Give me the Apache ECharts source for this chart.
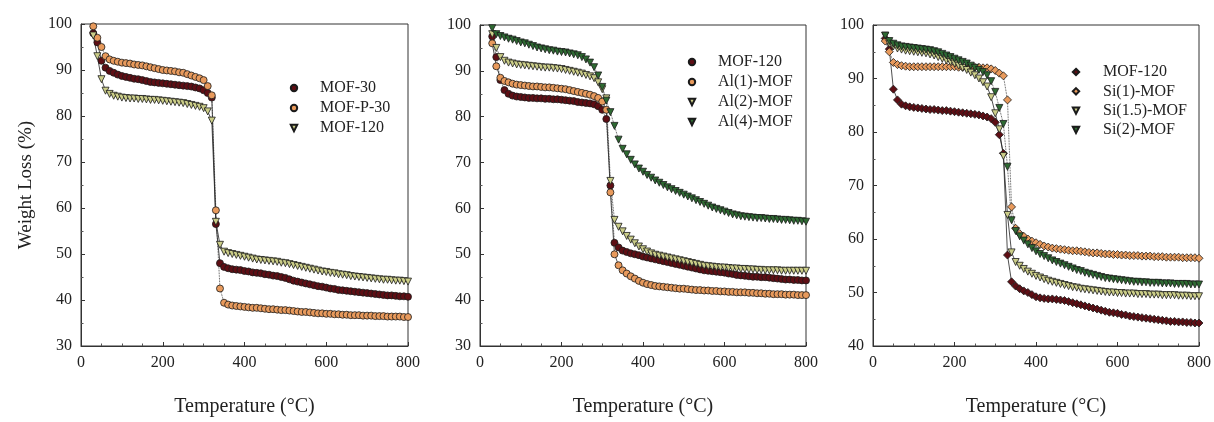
<!DOCTYPE html>
<html>
<head>
<meta charset="utf-8">
<script src="https://cdn.jsdelivr.net/npm/echarts@6/dist/echarts.min.js"></script>
<style>
html,body{margin:0;padding:0;background:#fff;}
#c{width:1214px;height:422px;}
</style>
</head>
<body>
<div id="c"></div>
<script>
// Temperature grid (°C), shared by all series
const temps = [30,40,50,60,70,80,90,100,110,120,130,140,150,160,170,180,190,200,210,220,230,240,250,260,270,280,290,300,310,320,330,340,350,360,370,380,390,400,410,420,430,440,450,460,470,480,490,500,510,520,530,540,550,560,570,580,590,600,610,620,630,640,650,660,670,680,690,700,710,720,730,740,750,760,770,780,790,800];

// Panel 1
const p1_mof30 = [98,96,92,90.5,89.8,89.4,89,88.7,88.5,88.3, 88.1,88,87.8,87.6,87.4,87.3,87.2,87.1,87,86.9, 86.8,86.7,86.6,86.5,86.4,86.2,86,85.6,85,84, 56.5,48,47.2,46.9,46.7,46.6,46.5,46.3,46.2,46, 45.9,45.8,45.6,45.5,45.3,45.2,45,44.8,44.5,44.2, 44,43.8,43.6,43.4,43.2,43,42.9,42.7,42.5,42.4, 42.2,42.1,42,41.9,41.8,41.7,41.6,41.5,41.4,41.3, 41.2,41.1,41,41,40.9,40.8,40.8,40.7];
const p1_mofp30 = [99.5,97,95,93,92.3,92,91.8,91.6,91.5,91.4, 91.2,91.1,91,90.8,90.6,90.4,90.2,90,89.9,89.8, 89.7,89.5,89.4,89.1,88.8,88.5,88.2,87.8,86.5,84.5, 59.5,42.5,39.4,39,38.8,38.7,38.6,38.5,38.4,38.3, 38.3,38.2,38.1,38,38,37.9,37.8,37.8,37.7,37.6, 37.5,37.4,37.4,37.3,37.2,37.1,37.1,37,37,36.9, 36.9,36.8,36.8,36.7,36.7,36.7,36.6,36.6,36.6,36.5, 36.5,36.5,36.4,36.4,36.4,36.4,36.3,36.3];
const p1_mof120 = [97.5,93,88,85.5,84.8,84.4,84.2,84,83.9,83.8, 83.8,83.7,83.7,83.6,83.5,83.5,83.4,83.3,83.2,83.1, 83,82.9,82.8,82.6,82.4,82.2,82,81.7,81,79, 57,52,50.5,50.2,50,49.8,49.6,49.4,49.2,49, 48.8,48.7,48.6,48.5,48.4,48.3,48.1,48,47.8,47.6, 47.4,47.2,47,46.8,46.6,46.4,46.2,46.1,45.9,45.8, 45.6,45.5,45.4,45.2,45.1,45,44.9,44.8,44.7,44.6, 44.5,44.4,44.4,44.3,44.2,44.2,44.1,44];

// Panel 2
const p2_mof120 = [97.5,93,88,85.8,85,84.6,84.4,84.3,84.2,84.1, 84.1,84,84,83.9,83.9,83.8,83.8,83.7,83.6,83.5, 83.4,83.2,83.1,83,82.9,82.7,82.3,81.5,79.5,65, 52.5,51.5,50.8,50.5,50.2,50,49.8,49.5,49.3,49.1, 48.9,48.7,48.5,48.3,48.1,47.9,47.7,47.5,47.3,47.1, 46.9,46.7,46.5,46.4,46.3,46.2,46.1,46,45.8,45.7, 45.5,45.4,45.3,45.2,45.1,45.1,45,45,44.9,44.8, 44.7,44.6,44.5,44.5,44.4,44.4,44.3,44.3];
const p2_al1 = [96,91,88.5,87.8,87.5,87.2,87,86.9,86.8,86.7, 86.6,86.6,86.5,86.4,86.4,86.3,86.2,86.1,86,85.8, 85.6,85.4,85.2,85,84.8,84.5,84.1,83.3,81.5,63.5, 50,47.6,46.5,45.8,45.2,44.7,44.2,43.8,43.5,43.3, 43.1,43,42.9,42.8,42.7,42.6,42.5,42.5,42.4,42.3, 42.2,42.2,42.1,42.1,42,42,41.9,41.9,41.8,41.8, 41.7,41.7,41.7,41.6,41.6,41.5,41.5,41.4,41.4,41.3, 41.3,41.3,41.2,41.2,41.2,41.1,41.1,41.1];
const p2_al2 = [98,95,93,92.2,91.8,91.6,91.4,91.3,91.2,91.1, 91,90.9,90.8,90.7,90.7,90.6,90.5,90.4,90.2,90, 89.8,89.6,89.4,89.1,88.8,88.4,87.5,86,84,66, 57.5,56,55,54,53.2,52.4,51.7,51.1,50.6,50.2, 49.9,49.7,49.5,49.3,49.1,48.9,48.7,48.5,48.3,48.1, 47.9,47.7,47.5,47.4,47.3,47.2,47.1,47.1,47,46.9, 46.9,46.8,46.8,46.7,46.7,46.6,46.6,46.5,46.5,46.5, 46.5,46.4,46.4,46.4,46.4,46.4,46.4,46.4];
const p2_al4 = [99.3,98,97.6,97.3,97,96.8,96.5,96.2,96,95.7, 95.4,95.1,94.9,94.7,94.5,94.4,94.2,94.1,94,93.8, 93.6,93.4,93,92.5,91.8,90.8,89,86.5,83.5,81, 78,75,73,71.8,70.6,69.6,68.7,68,67.3,66.7, 66.1,65.6,65.1,64.6,64.2,63.8,63.4,63,62.6,62.2, 61.8,61.4,61,60.6,60.2,59.9,59.6,59.3,59,58.7, 58.5,58.3,58.2,58.1,58,57.9,57.9,57.8,57.7,57.7, 57.6,57.5,57.5,57.4,57.3,57.3,57.2,57.1];

// Panel 3
const p3_mof120 = [97.5,95.5,88,86,85.2,84.9,84.7,84.6,84.5,84.4, 84.3,84.2,84.2,84.1,84,84,83.9,83.8,83.7,83.6, 83.5,83.4,83.3,83.2,83,82.8,82.5,81.8,79.5,76, 57,52,51.2,50.7,50.3,50,49.6,49.2,49,48.9, 48.8,48.8,48.7,48.6,48.5,48.3,48.1,47.9,47.7,47.5, 47.3,47.1,46.9,46.7,46.5,46.3,46.2,46.1,45.9,45.8, 45.6,45.5,45.4,45.3,45.2,45.1,45,44.9,44.8,44.7, 44.6,44.6,44.5,44.5,44.4,44.4,44.3,44.3];
const p3_si1 = [97,95,93,92.6,92.4,92.3,92.2,92.2,92.2,92.2, 92.2,92.2,92.2,92.2,92.2,92.2,92.2,92.2,92.1,92.1, 92.1,92.1,92.1,92.1,92,92,91.8,91.5,91,90.5, 86,66,62,61,60.5,60,59.6,59.3,59,58.7, 58.5,58.3,58.2,58.1,58,57.9,57.8,57.8,57.7,57.6, 57.5,57.4,57.4,57.3,57.2,57.2,57.1,57.1,57,57, 56.9,56.9,56.9,56.8,56.8,56.8,56.7,56.7,56.7,56.6, 56.6,56.6,56.6,56.5,56.5,56.5,56.5,56.4];
const p3_si15 = [98,96.5,96,95.6,95.4,95.2,95.1,95,94.9,94.8, 94.7,94.5,94.3,94,93.7,93.4,93.1,92.8,92.4,92, 91.6,91.1,90.6,90,89.3,88.5,86.5,83.5,80.5,75.5, 64.5,57.5,55.7,55,54.4,53.9,53.5,53.1,52.8,52.5, 52.2,52,51.8,51.6,51.4,51.2,51,50.9,50.7,50.6, 50.5,50.4,50.3,50.2,50.1,50,50,49.9,49.9,49.8, 49.8,49.8,49.7,49.7,49.7,49.6,49.6,49.6,49.5,49.5, 49.5,49.5,49.4,49.4,49.4,49.3,49.3,49.3];
const p3_si2 = [98,97,96.5,96.2,96,95.9,95.8,95.7,95.6,95.5, 95.4,95.3,95.1,94.9,94.6,94.3,94,93.7,93.4,93.1, 92.8,92.4,92,91.6,91.2,90.6,89.5,87.5,84.5,81.5, 73.5,63.5,61.5,60.5,59.7,59,58.3,57.7,57.2,56.8, 56.4,56,55.7,55.4,55.1,54.8,54.5,54.2,54,53.7, 53.5,53.3,53.1,52.9,52.7,52.6,52.5,52.4,52.3,52.2, 52.1,52,52,51.9,51.9,51.8,51.8,51.8,51.7,51.7, 51.7,51.6,51.6,51.6,51.6,51.5,51.5,51.5];

const xTicks = [0,200,400,600,800];
const p1Names = ['MOF-30','MOF-P-30','MOF-120'];
const p2Names = ['MOF-120 ','Al(1)-MOF','Al(2)-MOF','Al(4)-MOF'];
const p3Names = ['MOF-120  ','Si(1)-MOF','Si(1.5)-MOF','Si(2)-MOF'];

const C_MAROON = '#5e0e14', C_ORANGE = '#e89a5c', C_LIGHT = '#cbcd88', C_DARK = '#2e6a32';
const FONT = 'Liberation Serif, Times New Roman, serif';

function pairs(ys){ return ys.map((y,i)=>[temps[i], y]); }

function mkSeries(name, ys, gi, symbol, color, rotate, lineType){
  return {
    type:'line', name:name, xAxisIndex:gi, yAxisIndex:gi,
    data:pairs(ys), symbol:symbol, symbolSize: symbol==='diamond'?8:7,
    symbolRotate: rotate||0, showSymbol:true, showAllSymbol:true,
    itemStyle:{color:color, borderColor:'#1a1a1a', borderWidth:0.8},
    lineStyle:{color:'#222', width:0.8, type: lineType||'dotted'},
    emphasis:{disabled:true}, animation:false
  };
}

const grids = [
  {left:81, top:24, width:327, height:332},
  {left:480, top:25, width:326, height:333},
  {left:873, top:25, width:326, height:332}
];
const yRanges = [[30,100],[30,100],[40,100]];

const xAxes = grids.map((g,i)=>({
  type:'value', gridIndex:i, min:0, max:800, interval:200,
  name:'Temperature (°C)', nameLocation:'middle', nameGap:51,
  nameTextStyle:{fontFamily:FONT, fontSize:20, color:'#222'},
  axisLine:{lineStyle:{color:'#333', width:1}},
  axisTick:{inside:true, length:4, lineStyle:{color:'#333'}},
  minorTick:{show:true, splitNumber:4, length:2.5, lineStyle:{color:'#555'}},
  axisLabel:{fontFamily:FONT, fontSize:16, color:'#222', margin:9},
  splitLine:{show:false}
}));
const yAxes = grids.map((g,i)=>({
  type:'value', gridIndex:i, min:yRanges[i][0], max:yRanges[i][1], interval:10,
  name: i===0 ? 'Weight Loss (%)' : '', nameLocation:'middle', nameGap:45,
  nameTextStyle:{fontFamily:FONT, fontSize:19, color:'#222'},
  axisLine:{lineStyle:{color:'#333', width:1}},
  axisTick:{inside:true, length:4, lineStyle:{color:'#333'}},
  minorTick:{show:true, splitNumber:2, length:2.5, lineStyle:{color:'#555'}},
  axisLabel:{fontFamily:FONT, fontSize:16, color:'#222', margin:9},
  splitLine:{show:false}
}));

const series = [
  mkSeries(p1Names[0], p1_mof30, 0, 'circle', C_MAROON, 0, 'solid'),
  mkSeries(p1Names[1], p1_mofp30, 0, 'circle', C_ORANGE, 0, 'dotted'),
  mkSeries(p1Names[2], p1_mof120, 0, 'triangle', C_LIGHT, 180, 'solid'),
  mkSeries(p2Names[0], p2_mof120, 1, 'circle', C_MAROON, 0, 'dotted'),
  mkSeries(p2Names[1], p2_al1, 1, 'circle', C_ORANGE, 0, 'solid'),
  mkSeries(p2Names[2], p2_al2, 1, 'triangle', C_LIGHT, 180, 'dotted'),
  mkSeries(p2Names[3], p2_al4, 1, 'triangle', C_DARK, 180, 'dotted'),
  mkSeries(p3Names[0], p3_mof120, 2, 'diamond', C_MAROON, 0, 'solid'),
  mkSeries(p3Names[1], p3_si1, 2, 'diamond', C_ORANGE, 0, 'dotted'),
  mkSeries(p3Names[2], p3_si15, 2, 'triangle', C_LIGHT, 180, 'solid'),
  mkSeries(p3Names[3], p3_si2, 2, 'triangle', C_DARK, 180, 'dotted')
];

function mkLegend(names, left, top, w, gap){
  return {
    data:names, orient:'vertical', left:left, top:top, padding:0,
    itemWidth:w, itemHeight:8, itemGap:gap, selectedMode:false,
    lineStyle:{opacity:0},
    textStyle:{fontFamily:FONT, fontSize:16, color:'#222', lineHeight:16}
  };
}

const chart = echarts.init(document.getElementById('c'), null, {renderer:'canvas'});
chart.setOption({
  animation:false,
  backgroundColor:'#fff',
  grid: grids.map(g=>Object.assign({show:true, borderColor:'#333', borderWidth:1, backgroundColor:'transparent'}, g)),
  xAxis:xAxes, yAxis:yAxes,
  legend:[
    mkLegend(p1Names, 272, 80, 42, 4),
    mkLegend(p2Names, 670, 54, 42, 4),
    mkLegend(p3Names, 1053, 64, 44, 3.3)
  ],
  series:series
});
</script>
</body>
</html>
